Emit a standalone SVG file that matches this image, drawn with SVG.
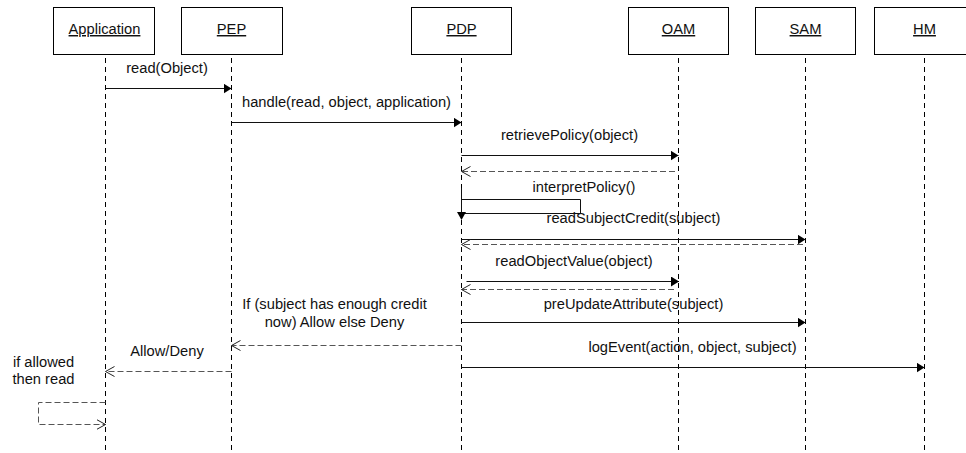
<svg xmlns="http://www.w3.org/2000/svg" width="966" height="453" viewBox="0 0 966 453">
  <style>
    text { font-family: "Liberation Sans", Arial, sans-serif; font-size: 14.7px; fill: #111; }
    .obj rect { fill: #fff; stroke: #000; stroke-width: 1; }
    .obj text { text-anchor: middle; text-decoration: underline; }
    .life { stroke: #000; stroke-width: 1; stroke-dasharray: 5 4; fill: none; }
    .call { stroke: #111; stroke-width: 1; fill: none; marker-end: url(#solidHead); }
    .ret { stroke: #555; stroke-width: 1; stroke-dasharray: 6 3; fill: none; marker-end: url(#openHead); }
    .lbl { text-anchor: middle; }
  </style>
  <defs>
    <marker id="solidHead" markerUnits="userSpaceOnUse" markerWidth="9" markerHeight="11" refX="8" refY="5" orient="auto">
      <path d="M0,0 L8,5 L0,10 z" fill="#000"/>
    </marker>
    <marker id="openHead" markerUnits="userSpaceOnUse" markerWidth="11" markerHeight="12" refX="9" refY="5.5" orient="auto">
      <path d="M0,0.5 L9,5.5 L0,10.5" fill="none" stroke="#222" stroke-width="1"/>
    </marker>
  </defs>

  <rect width="966" height="453" fill="#fff"/>

  <!-- lifeline objects -->
  <g id="application" class="obj">
    <rect x="53.5" y="7.5" width="101" height="47"/>
    <text x="104.5" y="34">Application</text>
    <line class="life" x1="105.5" y1="58" x2="105.5" y2="453"/>
  </g>
  <g id="pep" class="obj">
    <rect x="181.5" y="7.5" width="101" height="47"/>
    <text x="231.5" y="34">PEP</text>
    <line class="life" x1="231.5" y1="58" x2="231.5" y2="453"/>
  </g>
  <g id="pdp" class="obj">
    <rect x="411.5" y="7.5" width="100" height="47"/>
    <text x="461.5" y="34">PDP</text>
    <line class="life" x1="461.5" y1="58" x2="461.5" y2="453"/>
  </g>
  <g id="oam" class="obj">
    <rect x="628.5" y="7.5" width="100" height="47"/>
    <text x="678.5" y="34">OAM</text>
    <line class="life" x1="678.5" y1="58" x2="678.5" y2="453"/>
  </g>
  <g id="sam" class="obj">
    <rect x="755.5" y="7.5" width="100" height="47"/>
    <text x="805.5" y="34">SAM</text>
    <line class="life" x1="805.5" y1="58" x2="805.5" y2="453"/>
  </g>
  <g id="hm" class="obj">
    <rect x="874.5" y="7.5" width="100" height="47"/>
    <text x="924.5" y="34">HM</text>
    <line class="life" x1="924.5" y1="58" x2="924.5" y2="453"/>
  </g>

  <!-- messages -->
  <g id="connectors">
    <line class="call" x1="105.5" y1="88.5" x2="231.5" y2="88.5"/>
    <line class="call" x1="231.5" y1="122.5" x2="461.5" y2="122.5"/>
    <line class="call" x1="461.5" y1="155.5" x2="678.5" y2="155.5"/>
    <line class="ret" x1="675" y1="171.5" x2="461.5" y2="171.5"/>

    <!-- interpretPolicy self call -->
    <line x1="461.5" y1="188" x2="461.5" y2="213" stroke="#111"/>
    <polyline points="461.5,199.5 580.5,199.5 580.5,213.5 461.5,213.5" fill="none" stroke="#111"/>
    <path d="M457,212 L466,212 L461.5,220 z" fill="#000"/>

    <line class="call" x1="461.5" y1="239.5" x2="805.5" y2="239.5"/>
    <line class="ret" x1="803" y1="244.5" x2="461.5" y2="244.5"/>
    <line class="call" x1="466.5" y1="281.5" x2="679" y2="281.5"/>
    <line class="ret" x1="674" y1="289.5" x2="461.5" y2="289.5"/>
    <line class="call" x1="461.5" y1="322.5" x2="805.5" y2="322.5"/>
    <line class="ret" x1="461.5" y1="345.5" x2="231.5" y2="345.5"/>
    <line class="call" x1="461.5" y1="367.5" x2="924.5" y2="367.5"/>
    <line class="ret" x1="231.5" y1="371.5" x2="105.5" y2="371.5"/>

    <!-- local read on Application -->
    <polyline class="ret" points="105.5,402.5 38.5,402.5 38.5,424.5 105.5,424.5"/>
  </g>

  <!-- message labels -->
  <g id="labels">
    <text class="lbl" x="167" y="73">read(Object)</text>
    <text class="lbl" x="346.5" y="106.5">handle(read, object, application)</text>
    <text class="lbl" x="569.5" y="140">retrievePolicy(object)</text>
    <text class="lbl" x="584" y="192">interpretPolicy()</text>
    <text class="lbl" x="633.5" y="223">readSubjectCredit(subject)</text>
    <text class="lbl" x="574" y="266">readObjectValue(object)</text>
    <text class="lbl" x="633.5" y="309">preUpdateAttribute(subject)</text>
    <text class="lbl" x="334.5" y="309">If (subject has enough credit</text>
    <text class="lbl" x="334.5" y="327">now) Allow else Deny</text>
    <text class="lbl" x="692.5" y="352">logEvent(action, object, subject)</text>
    <text class="lbl" x="167" y="356">Allow/Deny</text>
    <text class="lbl" x="43.5" y="367">if allowed</text>
    <text class="lbl" x="43.5" y="384">then read</text>
  </g>
</svg>
